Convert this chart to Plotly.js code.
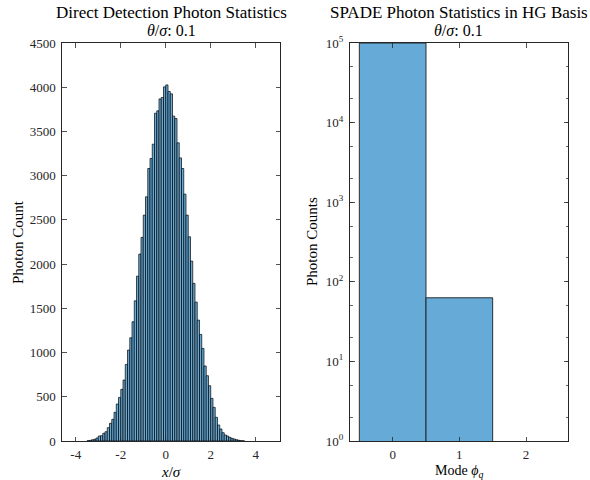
<!DOCTYPE html>
<html><head><meta charset="utf-8">
<script src="https://cdn.plot.ly/plotly-3.0.1.min.js"></script>
<style>html,body{margin:0;padding:0;background:#fff}#chart{width:590px;height:480px}</style>
</head><body><div id="chart"></div>
<script>
// Direct detection histogram: bins of width 0.1 starting at -3.5 (x/sigma)
const ddFirstEdge = -3.5;
const ddBinWidth = 0.1;
const ddCounts = [
  3, 7, 14, 20, 34, 56, 60, 87, 105, 151,
  200, 245, 324, 418, 493, 584, 689, 866, 1028, 1167,
  1348, 1585, 1864, 2113, 2302, 2554, 2761, 3081, 3194, 3356,
  3706, 3733, 3868, 3884, 4004, 4026, 3952, 3925, 3673, 3646,
  3371, 3201, 3081, 2791, 2554, 2309, 2034, 1782, 1570, 1367,
  1205, 1047, 848, 738, 625, 482, 380, 268, 181, 136,
  94, 68, 56, 41, 30, 23, 15, 8, 3, 2
];
// SPADE counts per HG mode
const modeIndex = [0, 1, 2];
const modeCounts = [99937, 63, 0];

const leftXTicks = [-4, -2, 0, 2, 4];
const leftXTickText = ['-4', '-2', '0', '2', '4'];
const leftYTicks = [0, 500, 1000, 1500, 2000, 2500, 3000, 3500, 4000, 4500];
const rightXTicks = [0, 1, 2];
const rightYTicks = [1, 10, 100, 1000, 10000, 100000];
const rightYTickText = ['10<sup>0</sup>', '10<sup>1</sup>', '10<sup>2</sup>', '10<sup>3</sup>', '10<sup>4</sup>', '10<sup>5</sup>'];

const ddCenters = ddCounts.map((_, i) => ddFirstEdge + (i + 0.5) * ddBinWidth);

const FACE = 'rgb(102,170,215)';
const AX = 'rgb(38,38,38)';
const FONT = 'Liberation Serif';
const W = 590, H = 480;

const traces = [
  {type: 'bar', x: ddCenters, y: ddCounts, width: ddBinWidth, xaxis: 'x', yaxis: 'y',
   marker: {color: FACE, line: {color: 'black', width: 0.7}}, hoverinfo: 'x+y'},
  {type: 'bar', x: modeIndex, y: modeCounts, width: 1, xaxis: 'x2', yaxis: 'y2',
   marker: {color: FACE, line: {color: 'rgb(30,30,30)', width: 0.9}}, hoverinfo: 'x+y'}
];

const axCommon = {
  showline: true, linecolor: AX, linewidth: 1, mirror: 'ticks',
  ticks: 'inside', ticklen: 4.5, tickwidth: 0.8, tickcolor: AX,
  showgrid: false, zeroline: false, fixedrange: true,
  tickfont: {family: FONT, size: 13, color: AX}
};

const L = {l: 62.3, r: 280, t: 43, b: 441};
const R = {l: 350, r: 568, t: 43, b: 441};

const layout = {
  width: W, height: H,
  margin: {l: 0, r: 0, t: 0, b: 0},
  paper_bgcolor: '#fff', plot_bgcolor: '#fff',
  showlegend: false, bargap: 0,
  font: {family: FONT, color: '#000'},
  xaxis: Object.assign({}, axCommon, {domain: [L.l / W, L.r / W], range: [-4.6, 5.08],
    tickvals: leftXTicks, ticktext: leftXTickText, anchor: 'y', ticklabelstandoff: 1}),
  yaxis: Object.assign({}, axCommon, {domain: [1 - L.b / H, 1 - L.t / H], range: [0, 4500],
    tickvals: leftYTicks, anchor: 'x', ticklabelstandoff: 3}),
  xaxis2: Object.assign({}, axCommon, {domain: [R.l / W, R.r / W], range: [-0.64, 2.63],
    tickvals: rightXTicks, anchor: 'y2', ticklabelstandoff: 1}),
  yaxis2: Object.assign({}, axCommon, {domain: [1 - R.b / H, 1 - R.t / H], type: 'log', range: [0, 5],
    tickvals: rightYTicks, ticktext: rightYTickText, anchor: 'x2', ticklabelstandoff: 3,
    minor: {ticks: 'inside', ticklen: 2.5, tickwidth: 0.7, tickcolor: AX, showgrid: false}}),
  annotations: [
    {text: 'Direct Detection Photon Statistics', x: 171 / W, y: 1 - 12 / H, xref: 'paper', yref: 'paper',
     xanchor: 'center', yanchor: 'middle', showarrow: false, font: {family: FONT, size: 17, color: '#000'}},
    {text: '<i>θ</i>/<i>σ</i>: 0.1', x: 171 / W, y: 1 - 30.5 / H, xref: 'paper', yref: 'paper',
     xanchor: 'center', yanchor: 'middle', showarrow: false, font: {family: FONT, size: 16, color: '#000'}},
    {text: 'SPADE Photon Statistics in HG Basis', x: 459 / W, y: 1 - 12 / H, xref: 'paper', yref: 'paper',
     xanchor: 'center', yanchor: 'middle', showarrow: false, font: {family: FONT, size: 17, color: '#000'}},
    {text: '<i>θ</i>/<i>σ</i>: 0.1', x: 459 / W, y: 1 - 30.5 / H, xref: 'paper', yref: 'paper',
     xanchor: 'center', yanchor: 'middle', showarrow: false, font: {family: FONT, size: 16, color: '#000'}},
    {text: 'Photon Count', x: 18 / W, y: 1 - 242 / H, xref: 'paper', yref: 'paper', textangle: -90,
     xanchor: 'center', yanchor: 'middle', showarrow: false, font: {family: FONT, size: 15, color: '#000'}},
    {text: '<i>x</i>/<i>σ</i>', x: 171 / W, y: 1 - 472 / H, xref: 'paper', yref: 'paper',
     xanchor: 'center', yanchor: 'middle', showarrow: false, font: {family: FONT, size: 15, color: '#000'}},
    {text: 'Photon Counts', x: 312 / W, y: 1 - 242 / H, xref: 'paper', yref: 'paper', textangle: -90,
     xanchor: 'center', yanchor: 'middle', showarrow: false, font: {family: FONT, size: 15, color: '#000'}},
    {text: 'Mode <i>ϕ<sub>q</sub></i>', x: 459 / W, y: 1 - 471 / H, xref: 'paper', yref: 'paper',
     xanchor: 'center', yanchor: 'middle', showarrow: false, font: {family: FONT, size: 14, color: '#000'}}
  ]
};

Plotly.newPlot('chart', traces, layout, {displayModeBar: false, staticPlot: true});
</script>
</body></html>
